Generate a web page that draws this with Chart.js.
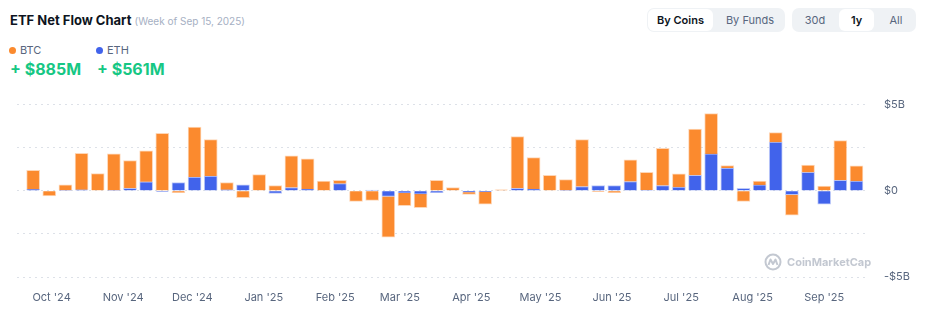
<!DOCTYPE html>
<html>
<head>
<meta charset="utf-8">
<script src="https://cdn.jsdelivr.net/npm/chart.js@4.4.1/dist/chart.umd.min.js"></script>
<style>
  body { margin: 0; background: #fff; font-family: Inter, "Noto Sans", sans-serif; width: 927px; height: 323px; position: relative; overflow: hidden; }
  .title { position: absolute; left: 10px; top: 12px; font-size: 13px; font-weight: 700; color: #0d1421; white-space: nowrap; }
  .title span { font-size: 10px; font-weight: 400; color: #a6b0c3; margin-left: 0px; }
  .leg { position: absolute; top: 43px; font-size: 11px; color: #58667e; }
  .leg i { display: inline-block; width: 7px; height: 7px; border-radius: 50%; margin-right: 4px; vertical-align: 0px; }
  .val { position: absolute; top: 59px; font-size: 16px; font-weight: 700; color: #16c784; white-space: nowrap; }
  .grp { position: absolute; top: 8px; height: 24px; background: #eff2f5; border-radius: 7px; }
  .btn { position: absolute; top: 1px; height: 22px; line-height: 22px; font-size: 11px; color: #58667e; text-align: center; border-radius: 6px; }
  .btn.on { background: #fff; color: #0d1421; font-weight: 600; }
  #wrap { position: absolute; left: 0; top: 82px; width: 927px; height: 233px; }
  .wm { position: absolute; left: 764px; top: 253px; color: #c3c8d1; font-size: 11px; font-weight: 700; white-space: nowrap; }
  .wm svg { vertical-align: -5px; margin-right: 5px; }
</style>
</head>
<body>
<div class="title">ETF Net Flow Chart <span>(Week of Sep 15, 2025)</span></div>
<div class="leg" style="left:9px"><i style="background:#fb8a2e"></i>BTC</div>
<div class="leg" style="left:96px"><i style="background:#4163eb"></i>ETH</div>
<div class="val" style="left:10px">+ $885M</div>
<div class="val" style="left:97px">+ $561M</div>

<div class="grp" style="left:647px;width:138px">
  <div class="btn on" style="left:1px;width:65px">By Coins</div>
  <div class="btn" style="left:70px;width:66px">By Funds</div>
</div>
<div class="grp" style="left:792px;width:124px">
  <div class="btn" style="left:4px;width:38px">30d</div>
  <div class="btn on" style="left:47px;width:35px">1y</div>
  <div class="btn" style="left:88px;width:32px">All</div>
</div>

<div id="wrap"><canvas id="chart"></canvas></div>
<div class="wm"><svg width="18" height="18" viewBox="0 0 18 18"><circle cx="9" cy="9" r="7.5" fill="none" stroke="#c3c8d1" stroke-width="2"/><path d="M4.5 12 L6.5 6.5 L9 11 L11.5 6.5 L13.5 12" fill="none" stroke="#c3c8d1" stroke-width="2" stroke-linejoin="round"/></svg>CoinMarketCap</div>

<script>
// weekly ETF net flows, in $M (week start dates)
const weeks = [
  '2024-09-23', '2024-09-30', '2024-10-07', '2024-10-14', '2024-10-21', '2024-10-28',
  '2024-11-04', '2024-11-11', '2024-11-18', '2024-11-25', '2024-12-02', '2024-12-09',
  '2024-12-16', '2024-12-23', '2024-12-30', '2025-01-06', '2025-01-13', '2025-01-20',
  '2025-01-27', '2025-02-03', '2025-02-10', '2025-02-17', '2025-02-24', '2025-03-03',
  '2025-03-10', '2025-03-17', '2025-03-24', '2025-03-31', '2025-04-07', '2025-04-14',
  '2025-04-21', '2025-04-28', '2025-05-05', '2025-05-12', '2025-05-19', '2025-05-26',
  '2025-06-02', '2025-06-09', '2025-06-16', '2025-06-23', '2025-06-30', '2025-07-07',
  '2025-07-14', '2025-07-21', '2025-07-28', '2025-08-04', '2025-08-11', '2025-08-18',
  '2025-08-25', '2025-09-01', '2025-09-08', '2025-09-15'
];
const ethFlows = [
  80, 0, 30, 60, 0, 30, 150, 520, -40, 480, 800, 860,
  60, 340, 0, -150, 190, 100, 0, 420, 0, 40, -330, -130,
  -190, -110, 0, -80, -50, 0, 150, 100, 0, 30, 250, 310,
  310, 540, 40, 310, 210, 900, 2140, 1320, 150, 340, 2820, -230,
  1070, -770, 610, 561
];
const btcFlows = [
  1110, -290, 310, 2120, 1000, 2110, 1610, 1800, 3330, -110, 2900, 2110,
  420, -400, 940, 310, 1840, 1760, 570, 190, -610, -560, -2360, -730,
  -790, 610, 190, -130, -730, 50, 2990, 1820, 900, 620, 2720, -40,
  -110, 1260, 1030, 2160, 770, 2680, 2340, 140, -610, 230, 550, -1190,
  420, 270, 2300, 885
];
const monthTicks = [
  '2024-10-01', '2024-11-01', '2024-12-01', '2025-01-01', '2025-02-01', '2025-03-01',
  '2025-04-01', '2025-05-01', '2025-06-01', '2025-07-01', '2025-08-01', '2025-09-01'
];
const monthLabels = [
  "Oct '24", "Nov '24", "Dec '24", "Jan '25", "Feb '25", "Mar '25",
  "Apr '25", "May '25", "Jun '25", "Jul '25", "Aug '25", "Sep '25"
];
const rangeStart = '2024-09-16';
const rangeEnd = '2025-09-20';

const day = s => Date.parse(s) / 86400000;

const ctx = document.getElementById('chart');
new Chart(ctx, {
  type: 'bar',
  data: {
    datasets: [
      {
        label: 'ETH',
        data: weeks.map((w, i) => ({ x: day(w), y: ethFlows[i] })),
        backgroundColor: '#4163eb',
        borderColor: 'rgba(65,99,235,0.35)',
        borderWidth: 1,
        barThickness: 13
      },
      {
        label: 'BTC',
        data: weeks.map((w, i) => ({ x: day(w), y: btcFlows[i] })),
        backgroundColor: '#fb8a2e',
        borderColor: 'rgba(251,138,46,0.35)',
        borderWidth: 1,
        barThickness: 13
      }
    ]
  },
  options: {
    responsive: true,
    maintainAspectRatio: false,
    animation: false,
    layout: { padding: { left: 17, top: 9, right: 0, bottom: 0 } },
    plugins: { legend: { display: false }, tooltip: { enabled: false } },
    scales: {
      x: {
        type: 'linear',
        offset: false,
        stacked: true,
        min: day(rangeStart),
        max: day(rangeEnd),
        grid: { display: false },
        border: { display: false },
        afterBuildTicks: s => { s.ticks = monthTicks.map(d => ({ value: day(d) })); },
        afterFit: s => { s.height = 38; },
        ticks: {
          autoSkip: false,
          maxRotation: 0,
          padding: 6,
          color: '#58667e',
          font: { family: 'Inter', size: 11 },
          callback: v => monthLabels[monthTicks.findIndex(d => day(d) === v)]
        }
      },
      y: {
        stacked: true,
        position: 'right',
        min: -5000,
        max: 5000,
        afterFit: s => { s.width = 59; },
        grid: { color: '#dde1e8', drawTicks: false, lineWidth: 1 },
        border: { display: false, dash: [2, 4] },
        ticks: {
          stepSize: 2500,
          padding: 16,
          color: '#58667e',
          font: { family: 'Inter', size: 11 },
          callback: v => v === 5000 ? '$5B' : v === 0 ? '$0' : v === -5000 ? '-$5B' : ''
        }
      }
    }
  }
});
</script>
</body>
</html>
